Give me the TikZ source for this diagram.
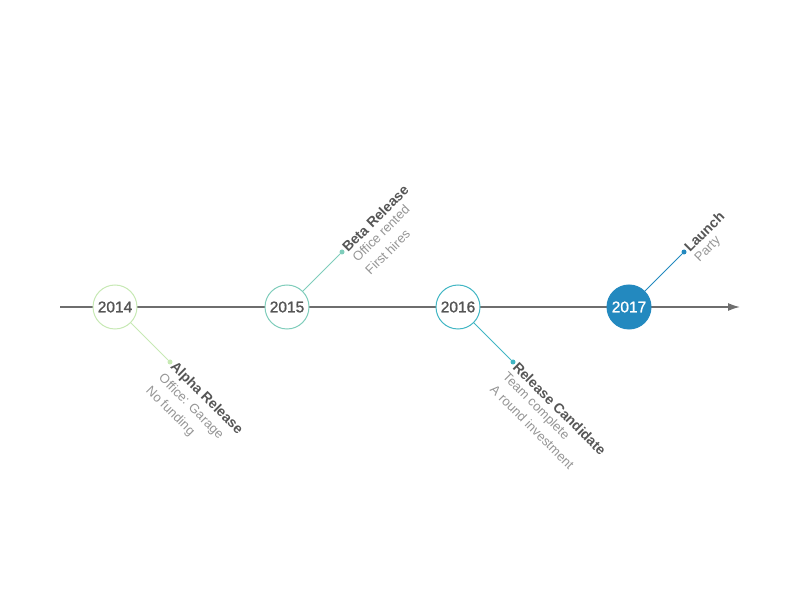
\documentclass[tikz,border=0pt]{standalone}
\usepackage{fontspec}
\setmainfont{Liberation Sans}
\newfontfamily\yearfont[FakeBold=1.2]{Liberation Sans}
\usetikzlibrary{arrows.meta,positioning,calc}
\definecolor{cA}{HTML}{C7E9B4}
\definecolor{cB}{HTML}{7FCDBB}
\definecolor{cC}{HTML}{41B6C4}
\definecolor{cD}{HTML}{2389BF}
\definecolor{axis}{HTML}{6E6E6E}
\definecolor{txt}{HTML}{555555}
\definecolor{sub}{HTML}{959595}
\tikzset{
  year/.style={circle, draw=#1, fill=white, line width=1pt, minimum size=44pt, inner sep=0pt,
    text=txt, font=\yearfont\fontsize{15.5}{15.5}\selectfont},
  stem/.style={draw=#1, line width=1pt},
  dot/.style={circle, fill=#1, minimum size=5pt, inner sep=0pt},
  head/.style={inner sep=2pt, text=txt, font=\fontsize{14}{14}\selectfont\bfseries},
  info/.style={inner sep=2pt, text=sub, align=left, font=\fontsize{13}{18}\selectfont}
}
\begin{document}
\begin{tikzpicture}[x=1pt,y=1pt]
    \useasboundingbox (0,0) rectangle (800,600);
    % axis
    \coordinate (start) at (60,293);
    \coordinate (end) at (740,293);
    \draw[axis, line width=1.5pt, -{Latex[length=12pt,width=8pt]}] (start) -- (end);
    % years
    \node[year=cA] (y14) at (115,293) {2014};
    \node[year=cB] (y15) at (287,293) {2015};
    \node[year=cC] (y16) at (458,293) {2016};
    \node[year=cD, fill=cD, text=white] (y17) at (629,293) {2017};
    % dots
    \node[dot=cA] (d14) at (170,238) {};
    \node[dot=cB] (d15) at (342,348) {};
    \node[dot=cC] (d16) at (513,238) {};
    \node[dot=cD] (d17) at (684,348) {};
    \draw[stem=cA] (y14.-45) -- (d14);
    \draw[stem=cB] (y15.45) -- (d15);
    \draw[stem=cC] (y16.-45) -- (d16);
    \draw[stem=cD] (y17.45) -- (d17);
    % labels
    \node[head, rotate=-45, anchor=west] (h14) at ($(d14)+(1,-1)$) {Alpha Release};
    \node[info, rotate=-45, anchor=north west] (i14) at (h14.south west) {Office: Garage\\No funding};
    \node[head, rotate=45, anchor=west] (h15) at ($(d15)+(1,1)$) {Beta Release};
    \node[info, rotate=45, anchor=north west] (i15) at (h15.south west) {Office rented\\First hires};
    \node[head, rotate=-45, anchor=west] (h16) at ($(d16)+(1,-1)$) {Release Candidate};
    \node[info, rotate=-45, anchor=north west] (i16) at (h16.south west) {Team complete\\A round investment};
    \node[head, rotate=45, anchor=west] (h17) at ($(d17)+(1,1)$) {Launch};
    \node[info, rotate=45, anchor=north west] (i17) at (h17.south west) {Party};
\end{tikzpicture}
\end{document}
